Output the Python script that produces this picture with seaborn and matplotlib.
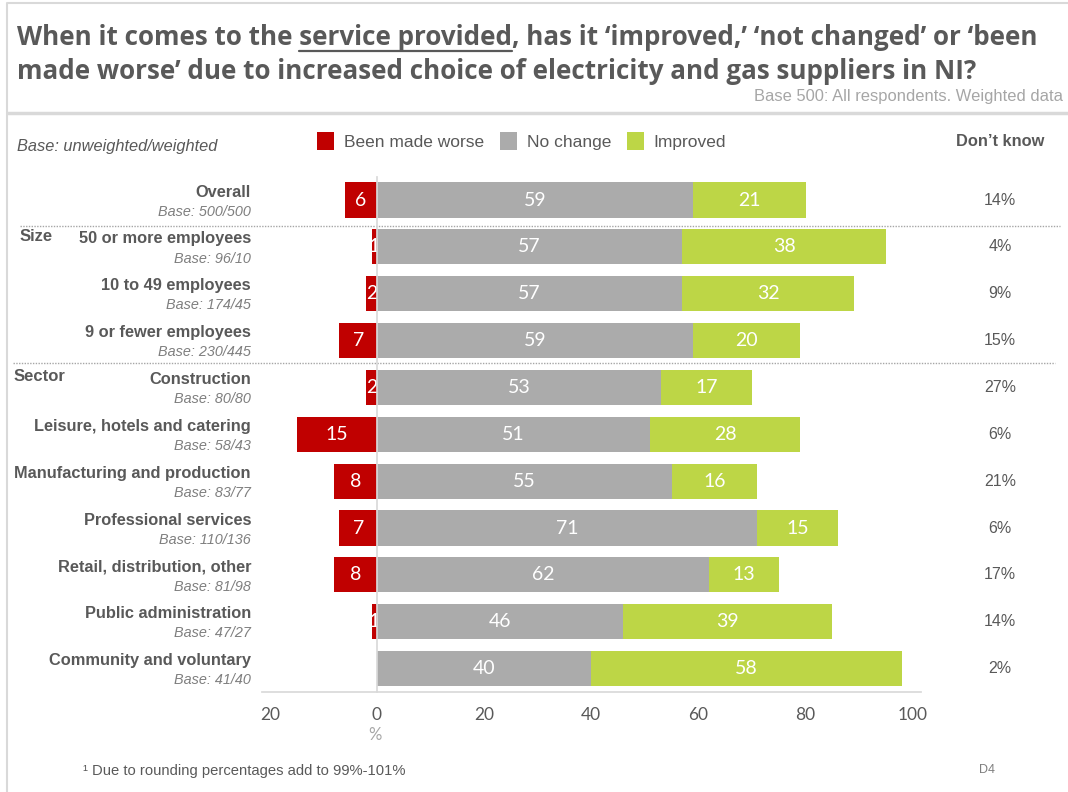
import numpy as np
import pandas as pd
import matplotlib
matplotlib.use("Agg")
import matplotlib.pyplot as plt
import matplotlib.transforms as mtransforms
from matplotlib.lines import Line2D
from matplotlib.patches import Patch
import seaborn as sns

# ---- data ----
categories = ["Overall", "50 or more employees", "10 to 49 employees", "9 or fewer employees",
              "Construction", "Leisure, hotels and catering", "Manufacturing and production",
              "Professional services", "Retail, distribution, other", "Public administration",
              "Community and voluntary"]
bases = ["Base: 500/500", "Base: 96/10", "Base: 174/45", "Base: 230/445", "Base: 80/80",
         "Base: 58/43", "Base: 83/77", "Base: 110/136", "Base: 81/98", "Base: 47/27",
         "Base: 41/40"]
made_worse = [6, 1, 2, 7, 2, 15, 8, 7, 8, 1, 0]
no_change = [59, 57, 57, 59, 53, 51, 55, 71, 62, 46, 40]
improved = [21, 38, 32, 20, 17, 28, 16, 15, 13, 39, 58]
dont_know = [14, 4, 9, 15, 27, 6, 21, 6, 17, 14, 2]
series_names = ["Been made worse", "No change", "Improved"]
x_ticks = [-20, 0, 20, 40, 60, 80, 100]
x_tick_labels = ["20", "0", "20", "40", "60", "80", "100"]

RED, GREY, GREEN = "#C00000", "#ABABAB", "#BDD646"
TXT, LIGHT, RULE = "#595959", "#A6A6A6", "#D9D9D9"

df = pd.DataFrame({"category": categories, "worse": made_worse,
                   "no_change": no_change, "improved": improved})
df["worse_neg"] = -df["worse"]
df["through_improved"] = df["no_change"] + df["improved"]

sns.set_theme(style="white")
plt.rcParams["font.family"] = ["Liberation Sans", "DejaVu Sans"]
NUMFONT = ["Lato", "DejaVu Sans"]

W, H = 1068, 792
fig = plt.figure(figsize=(W / 100, H / 100), dpi=100)
fig.patch.set_facecolor("white")

def fx(px):
    return px / W

def fy(py):
    return 1 - py / H

ax = fig.add_axes([fx(261.8), fy(692), 659 / W, 515.4 / H])

# stacked bars: cumulative green first, grey over it, red to the left of zero
sns.barplot(data=df, x="through_improved", y="category", orient="h", color=GREEN,
            saturation=1, width=0.75, linewidth=0, ax=ax, zorder=1)
sns.barplot(data=df, x="no_change", y="category", orient="h", color=GREY,
            saturation=1, width=0.75, linewidth=0, ax=ax, zorder=2)
sns.barplot(data=df, x="worse_neg", y="category", orient="h", color=RED,
            saturation=1, width=0.75, linewidth=0, ax=ax, zorder=1)

ax.set_xlim(-21.5, 101.5)
ax.set_ylim(len(categories) - 0.5, -0.5)
ax.set_xlabel("")
ax.set_ylabel("")

# value labels inside segments
LBL = dict(ha="center", va="center", color="white", fontsize=14, family=NUMFONT)
for i, row in df.iterrows():
    if row["worse"] > 0:
        ax.text(-row["worse"] / 2, i, str(row["worse"]), zorder=1.5, **LBL)
    ax.text(row["no_change"] / 2, i, str(row["no_change"]), zorder=3, **LBL)
    ax.text(row["no_change"] + row["improved"] / 2, i, str(row["improved"]), zorder=3, **LBL)

# axes styling
for s in ["top", "right"]:
    ax.spines[s].set_visible(False)
ax.spines["left"].set_position(("data", 0))
ax.spines["left"].set_color(RULE)
ax.spines["bottom"].set_color(RULE)
ax.set_yticks(np.arange(-0.5, len(categories), 1))
ax.set_yticklabels([])
ax.tick_params(axis="y", length=4, color=RULE, direction="out", width=1)
ax.set_xticks(x_ticks)
ax.set_xticklabels(x_tick_labels, family=NUMFONT)
ax.tick_params(axis="x", direction="in", length=5, color=RULE, pad=11,
               labelsize=12.5, labelcolor=TXT)
ax.grid(False)

# row labels on the left and "don't know" column on the right
trans = mtransforms.blended_transform_factory(fig.transFigure, ax.transData)
for i, (name, base, dk) in enumerate(zip(categories, bases, dont_know)):
    ax.text(fx(251), i - 0.17, name, transform=trans, ha="right", va="center",
            fontsize=11.8, fontweight="bold", color=TXT)
    ax.text(fx(251), i + 0.25, base, transform=trans, ha="right", va="center",
            fontsize=10.4, style="italic", color="#7F7F7F")
    ax.text(fx(1000), i, f"{dk}%", transform=trans, ha="center", va="center",
            fontsize=11.5, color=TXT)

ax.text(fx(20), 0.77, "Size", transform=trans, ha="left", va="center",
        fontsize=12, fontweight="bold", color=TXT)
ax.text(fx(14), 3.77, "Sector", transform=trans, ha="left", va="center",
        fontsize=12, fontweight="bold", color=TXT)

# dotted separators between groups
for yv, x0, x1 in [(0.555, 20, 1060), (3.47, 13, 1055)]:
    ax.add_line(Line2D([fx(x0), fx(x1)], [yv, yv], transform=trans, color=LIGHT,
                       lw=1, linestyle=(0, (1, 1)), clip_on=False))

# header frame
fig.add_artist(Line2D([fx(8), 1], [fy(3), fy(3)], color=RULE, lw=1.5))
fig.add_artist(Line2D([fx(7), fx(7)], [fy(3), 0], color=RULE, lw=1.5))
fig.add_artist(Line2D([fx(8), 1], [fy(113), fy(113)], color=RULE, lw=2.5))

# title with underlined phrase
title1 = "When it comes to the service provided, has it \u2018improved,\u2019 \u2018not changed\u2019 or \u2018been"
title2 = "made worse\u2019 due to increased choice of electricity and gas suppliers in NI?"
renderer = fig.canvas.get_renderer()
tkw = dict(fontsize=18, fontweight="bold", color=TXT, family=["Open Sans", "DejaVu Sans"],
           va="baseline", ha="left")
probe = fig.text(fx(17), fy(45), title1, **tkw)
tkw["fontsize"] = 18 * 1023 / probe.get_window_extent(renderer).width
probe.remove()
fig.text(fx(17), fy(45), title1, **tkw)
fig.text(fx(17), fy(79), title2, **tkw)
probe_full = fig.text(fx(17), fy(45), "When it comes to the service provided", **tkw)
probe_part = fig.text(fx(17), fy(45), "service provided", **tkw)
bb_full = probe_full.get_window_extent(renderer)
bb_part = probe_part.get_window_extent(renderer)
probe_full.remove()
probe_part.remove()
u_x1 = bb_full.x1
u_x0 = u_x1 - bb_part.width
fig.add_artist(Line2D([u_x0 / W, u_x1 / W], [fy(50.5), fy(50.5)], color=TXT, lw=1.6))

fig.text(fx(1063), fy(97), "Base 500: All respondents. Weighted data", ha="right",
         va="center", fontsize=11.9, color=LIGHT)

# legend row
handles = [Patch(facecolor=c, edgecolor="none") for c in (RED, GREY, GREEN)]
fig.legend(handles, series_names, loc="center left", bbox_to_anchor=(fx(310), fy(141)),
           ncol=3, frameon=False, fontsize=12.5, handlelength=1.0, handleheight=1.2,
           handletextpad=0.55, columnspacing=0.9, labelcolor=TXT, borderaxespad=0)
fig.text(fx(17), fy(147), "Base: unweighted/weighted", ha="left", va="center",
         fontsize=11.8, style="italic", color=TXT)
fig.text(fx(1000), fy(142), "Don\u2019t know", ha="center", va="center",
         fontsize=11.8, fontweight="bold", color=TXT)

# axis unit, footnote and page tag
fig.text(fx(375), fy(735), "%", ha="center", va="center", fontsize=12,
         color=LIGHT, family=NUMFONT)
fig.text(fx(83), fy(771), "\u00b9 Due to rounding percentages add to 99%-101%", ha="left",
         va="center", fontsize=10.6, color=TXT)
fig.text(fx(987), fy(770), "D4", ha="center", va="center", fontsize=9, color="#7F7F7F")

fig.savefig("out.png", dpi=100, facecolor="white")
